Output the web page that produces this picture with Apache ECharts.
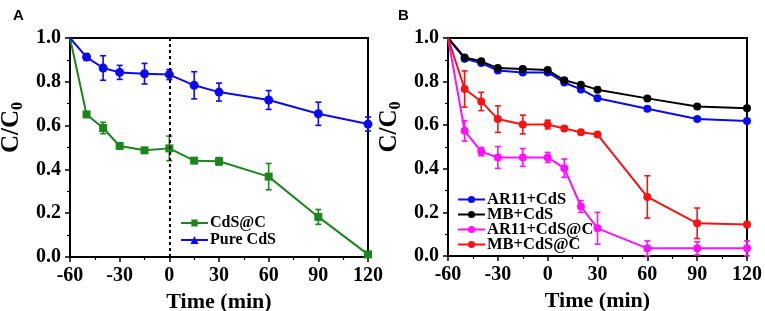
<!DOCTYPE html>
<html>
<head>
<meta charset="utf-8">
<script src="https://cdn.jsdelivr.net/npm/echarts@6/dist/echarts.min.js"></script>
<style>
html,body{margin:0;padding:0;background:#fff;}
#c{width:765px;height:311px;}
</style>
</head>
<body>
<div id="c"></div>
<script>
// Panel A data
const timeA = [-60, -50, -40, -30, -15, 0, 15, 30, 60, 90, 120];
const cdsC = [1.0, 0.651, 0.589, 0.507, 0.487, 0.496, 0.440, 0.437, 0.367, 0.183, 0.012];
const cdsCErr = [0, 0.005, 0.026, 0.005, 0.005, 0.056, 0.007, 0.017, 0.060, 0.034, 0.010];
const pureCdS = [1.0, 0.913, 0.863, 0.843, 0.837, 0.833, 0.784, 0.753, 0.717, 0.654, 0.607];
const pureCdSErr = [0, 0.015, 0.056, 0.032, 0.047, 0.023, 0.062, 0.041, 0.043, 0.053, 0.032];

// Panel B data
const timeB = [-60, -50, -40, -30, -15, 0, 10, 20, 30, 60, 90, 120];
const ar11CdS = [1.0, 0.905, 0.885, 0.851, 0.842, 0.842, 0.796, 0.764, 0.724, 0.675, 0.628, 0.619];
const ar11CdSErr = [0, 0.008, 0.008, 0.008, 0.008, 0.008, 0.008, 0.008, 0.008, 0.008, 0.008, 0.008];
const mbCdS = [1.0, 0.911, 0.893, 0.862, 0.858, 0.853, 0.806, 0.786, 0.763, 0.723, 0.686, 0.678];
const mbCdSErr = [0, 0.008, 0.008, 0.008, 0.008, 0.008, 0.008, 0.008, 0.008, 0.008, 0.008, 0.008];
const ar11CdSC = [1.0, 0.574, 0.479, 0.452, 0.452, 0.452, 0.403, 0.227, 0.127, 0.035, 0.035, 0.035];
const ar11CdSCErr = [0, 0.047, 0.019, 0.050, 0.041, 0.023, 0.042, 0.027, 0.073, 0.034, 0.030, 0.034];
const mbCdSC = [1.0, 0.766, 0.709, 0.628, 0.603, 0.603, 0.585, 0.568, 0.557, 0.271, 0.150, 0.145];
const mbCdSCErr = [0, 0.083, 0.042, 0.061, 0.043, 0.020, 0.010, 0.008, 0.008, 0.097, 0.070, 0.010];

// Axis ticks
const xTicks = { min: -60, max: 120, interval: 30 };
const yTicks = { min: 0, max: 1, interval: 0.2 };

const FONT = 'Liberation Serif';
const GREEN = '#1b861b', BLUE = '#0a0af5', BLACK = '#000000', MAGENTA = '#ff10ff', RED = '#f51414';

const chart = echarts.init(document.getElementById('c'), null, { renderer: 'canvas' });

function pts(xs, ys) {
  return xs.map((x, i) => i === 0 ? { value: [x, ys[i]], symbol: 'none' } : [x, ys[i]]);
}
function errData(xs, ys, es) {
  return xs.map((x, i) => [x, ys[i] - es[i], ys[i] + es[i]]);
}
function errSeries(name, xs, ys, es, color, gi) {
  return {
    type: 'custom', name: name + ' err', xAxisIndex: gi, yAxisIndex: gi, z: 1,
    silent: true,
    data: errData(xs, ys, es).filter(d => d[2] - d[1] > 0.001),
    renderItem: function (params, api) {
      const x = api.value(0);
      const lo = api.coord([x, api.value(1)]);
      const hi = api.coord([x, api.value(2)]);
      const w = 3;
      const st = { stroke: color, lineWidth: 1.6 };
      return {
        type: 'group', children: [
          { type: 'line', shape: { x1: lo[0], y1: lo[1], x2: hi[0], y2: hi[1] }, style: st },
          { type: 'line', shape: { x1: lo[0] - w, y1: lo[1], x2: lo[0] + w, y2: lo[1] }, style: st },
          { type: 'line', shape: { x1: hi[0] - w, y1: hi[1], x2: hi[0] + w, y2: hi[1] }, style: st }
        ]
      };
    }
  };
}
function lineSeries(name, xs, ys, color, symbol, gi, size) {
  return {
    type: 'line', name: name, xAxisIndex: gi, yAxisIndex: gi, z: 3,
    data: pts(xs, ys), symbol: symbol, symbolSize: size || 8,
    showSymbol: true,
    lineStyle: { color: color, width: 2 },
    itemStyle: { color: color },
    emphasis: { disabled: true },
    animation: false
  };
}

function xAxis(gi) {
  return {
    type: 'value', gridIndex: gi, min: xTicks.min, max: xTicks.max, interval: xTicks.interval,
    name: 'Time (min)', nameLocation: 'middle', nameGap: 25,
    nameTextStyle: { fontFamily: FONT, fontWeight: 'bold', fontSize: 22, color: '#000' },
    axisLine: { show: true, onZero: false, lineStyle: { color: '#000', width: 2 } },
    axisTick: { show: true, inside: false, length: 5, lineStyle: { color: '#000', width: 1.5 } },
    minorTick: { show: true, splitNumber: 2, length: 3, lineStyle: { color: '#000', width: 1.2 } },
    splitLine: { show: false },
    axisLabel: { fontFamily: FONT, fontWeight: 'bold', fontSize: 20, color: '#000', margin: 9 }
  };
}
function yAxis(gi) {
  return {
    type: 'value', gridIndex: gi, min: yTicks.min, max: yTicks.max, interval: yTicks.interval,
    name: '{a|C/C}{s|0}', nameLocation: 'middle', nameGap: 44, nameRotate: 90,
    nameTextStyle: {
      padding: [0, 0, 0, 40],
      rich: {
        a: { fontFamily: FONT, fontWeight: 'bold', fontSize: 25, color: '#000' },
        s: { fontFamily: FONT, fontWeight: 'bold', fontSize: 16, color: '#000', padding: [12, 0, 0, 0] }
      }
    },
    axisLine: { show: true, onZero: false, lineStyle: { color: '#000', width: 2 } },
    axisTick: { show: true, inside: false, length: 5, lineStyle: { color: '#000', width: 1.5 } },
    minorTick: { show: true, splitNumber: 2, length: 3, lineStyle: { color: '#000', width: 1.2 } },
    splitLine: { show: false },
    axisLabel: { fontFamily: FONT, fontWeight: 'bold', fontSize: 20, color: '#000', margin: 9,
      formatter: v => v.toFixed(1) }
  };
}

const lineIcon = 'M0,5L30,5L30,7.2L0,7.2Z ';
const icoSquare = 'path://' + lineIcon + 'M11.5,2L18.5,2L18.5,10L11.5,10Z';
const icoTri = 'path://' + lineIcon + 'M10.5,10.5L15,1.5L19.5,10.5Z';
const icoCircle = 'path://' + lineIcon + 'M15,2A4,4 0 1 1 15,10A4,4 0 1 1 15,2Z';

const option = {
  animation: false,
  backgroundColor: '#fff',
  title: [
    { text: 'A', left: 8, top: 3, textStyle: { fontFamily: 'Liberation Sans', fontWeight: 'bold', fontSize: 15, color: '#000' } },
    { text: 'B', left: 393, top: 3, textStyle: { fontFamily: 'Liberation Sans', fontWeight: 'bold', fontSize: 15, color: '#000' } }
  ],
  grid: [
    { left: 70, right: 397, top: 38, bottom: 54, show: true, borderColor: '#000', borderWidth: 2, backgroundColor: 'transparent', outerBoundsMode: 'none', containLabel: false },
    { left: 448, right: 18, top: 38, bottom: 55, show: true, borderColor: '#000', borderWidth: 2, backgroundColor: 'transparent', outerBoundsMode: 'none', containLabel: false }
  ],
  xAxis: [xAxis(0), xAxis(1)],
  yAxis: [yAxis(0), yAxis(1)],
  legend: [
    {
      left: 176, top: 210, orient: 'vertical', itemGap: 1, itemWidth: 27, itemHeight: 10,
      textStyle: { fontFamily: FONT, fontWeight: 'bold', fontSize: 16, color: '#000', padding: [0, 0, 0, -3] },
      data: [
        { name: 'CdS@C', icon: icoSquare, itemStyle: { color: GREEN } },
        { name: 'Pure CdS', icon: icoTri, itemStyle: { color: BLUE } }
      ]
    },
    {
      left: 453, top: 186, orient: 'vertical', itemGap: -2, itemWidth: 27, itemHeight: 9,
      textStyle: { fontFamily: FONT, fontWeight: 'bold', fontSize: 16.5, color: '#000', padding: [0, 0, 0, -3] },
      data: [
        { name: 'AR11+CdS', icon: icoCircle, itemStyle: { color: BLUE } },
        { name: 'MB+CdS', icon: icoCircle, itemStyle: { color: BLACK } },
        { name: 'AR11+CdS@C', icon: icoCircle, itemStyle: { color: MAGENTA } },
        { name: 'MB+CdS@C', icon: icoCircle, itemStyle: { color: RED } }
      ]
    }
  ],
  series: [
    errSeries('CdS@C', timeA, cdsC, cdsCErr, GREEN, 0),
    errSeries('Pure CdS', timeA, pureCdS, pureCdSErr, BLUE, 0),
    lineSeries('CdS@C', timeA, cdsC, GREEN, 'rect', 0, 8),
    Object.assign(lineSeries('Pure CdS', timeA, pureCdS, BLUE, 'circle', 0, 9), {
      markLine: {
        silent: true, symbol: 'none', animation: false,
        label: { show: false },
        lineStyle: { color: '#000', type: [3, 3], width: 2 },
        data: [{ xAxis: 0 }]
      }
    }),
    errSeries('AR11+CdS', timeB, ar11CdS, ar11CdSErr, BLUE, 1),
    errSeries('MB+CdS', timeB, mbCdS, mbCdSErr, BLACK, 1),
    errSeries('AR11+CdS@C', timeB, ar11CdSC, ar11CdSCErr, MAGENTA, 1),
    errSeries('MB+CdS@C', timeB, mbCdSC, mbCdSCErr, RED, 1),
    lineSeries('AR11+CdS', timeB, ar11CdS, BLUE, 'circle', 1, 8),
    lineSeries('MB+CdS', timeB, mbCdS, BLACK, 'circle', 1, 8),
    lineSeries('AR11+CdS@C', timeB, ar11CdSC, MAGENTA, 'circle', 1, 8),
    lineSeries('MB+CdS@C', timeB, mbCdSC, RED, 'circle', 1, 8)
  ]
};
chart.setOption(option);
</script>
</body>
</html>
